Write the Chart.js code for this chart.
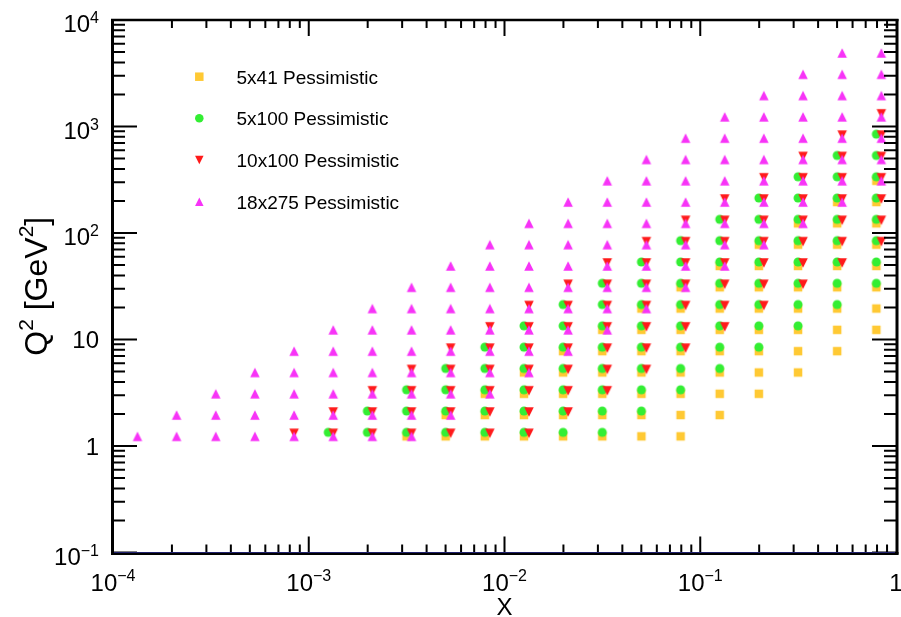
<!DOCTYPE html>
<html><head><meta charset="utf-8">
<script src="https://cdn.jsdelivr.net/npm/chart.js@4.4.0/dist/chart.umd.min.js"></script>
<style>html,body{margin:0;padding:0;background:#fff;}canvas{display:block;}</style>
</head><body>
<canvas id="c" width="901" height="617"></canvas>
<script>
// ---- data ----
const xBinCenters = [1.334e-4, 2.113e-4, 3.350e-4, 5.309e-4, 8.414e-4, 1.334e-3, 2.113e-3, 3.350e-3, 5.309e-3, 8.414e-3,
                     1.334e-2, 2.113e-2, 3.350e-2, 5.309e-2, 8.414e-2, 0.1334, 0.2113, 0.3350, 0.5309, 0.8414];
const q2BinCenters = [1.259, 1.995, 3.162, 5.012, 7.943, 12.59, 19.95, 31.62, 50.12, 79.43,
                      125.9, 199.5, 316.2, 501.2, 794.3, 1259, 1995, 3162, 5012];
const seriesNames = ['5x41 Pessimistic', '5x100 Pessimistic', '10x100 Pessimistic', '18x275 Pessimistic'];
// lowest / highest Q2 bin filled in each x bin (null = empty column)
const q2Min_5x41   = [null,null,null,null,null,null,null,1.259,1.259,1.259,1.259,1.259,1.259,1.259,1.259,1.995,3.162,5.012,7.943,12.59];
const q2Max_5x41   = [null,null,null,null,null,null,null,1.259,1.995,3.162,5.012,7.943,12.59,19.95,31.62,50.12,79.43,125.9,199.5,316.2];
const q2Min_5x100  = [null,null,null,null,null,1.259,1.259,1.259,1.259,1.259,1.259,1.259,1.259,1.995,3.162,5.012,7.943,12.59,19.95,31.62];
const q2Max_5x100  = [null,null,null,null,null,1.259,1.995,3.162,5.012,7.943,12.59,19.95,31.62,50.12,79.43,125.9,199.5,316.2,501.2,794.3];
const q2Min_10x100 = [null,null,null,null,1.259,1.259,1.259,1.259,1.259,1.259,1.259,1.995,3.162,5.012,7.943,12.59,19.95,31.62,50.12,79.43];
const q2Max_10x100 = [null,null,null,null,1.259,1.995,3.162,5.012,7.943,12.59,19.95,31.62,50.12,79.43,125.9,199.5,316.2,501.2,794.3,1259];
const q2Min_18x275 = [1.259,1.259,1.259,1.259,1.259,1.259,1.259,1.259,1.995,3.162,5.012,7.943,12.59,19.95,31.62,50.12,79.43,125.9,199.5,316.2];
const q2Max_18x275 = [1.259,1.995,3.162,5.012,7.943,12.59,19.95,31.62,50.12,79.43,125.9,199.5,316.2,501.2,794.3,1259,1995,3162,5012,5012];
// axis tick labels
const xMajorTicks = [1e-4, 1e-3, 1e-2, 1e-1, 1];
const xTickBase   = ['10', '10', '10', '10', '1'];
const xTickExp    = ['\u22124', '\u22123', '\u22122', '\u22121', ''];
const yMajorTicks = [0.1, 1, 10, 100, 1000, 10000];
const yTickBase   = ['10', '1', '10', '10', '10', '10'];
const yTickExp    = ['\u22121', '', '', '2', '3', '4'];
const xTitle = 'X';
const yTitleParts = [['Q', false], ['2', true], [' [GeV', false], ['2', true], [']', false]];

// ---- styles ----
const FONT = '"Liberation Sans", Arial, Helvetica, sans-serif';
const seriesStyle = [
  {shape: 'square', color: '#FFC933', dx: -5, dy: 1,  size: 8.5},
  {shape: 'circle', color: '#33EE33', dx: -5, dy: -3, size: 9},
  {shape: 'down',   color: '#FF1A1A', dx: 0,  dy: -2, size: 9.5},
  {shape: 'up',     color: '#F733F7', dx: 0,  dy: 1,  size: 9.5}
];

function drawShape(g, shape, cx, cy, s) {
  g.beginPath();
  const h = s / 2;
  if (shape === 'square') g.rect(cx - h, cy - h, s, s);
  else if (shape === 'circle') g.arc(cx, cy, h, 0, 2 * Math.PI);
  else if (shape === 'down') { g.moveTo(cx - h, cy - h); g.lineTo(cx + h, cy - h); g.lineTo(cx, cy + h); g.closePath(); }
  else { g.moveTo(cx - h, cy + h); g.lineTo(cx + h, cy + h); g.lineTo(cx, cy - h); g.closePath(); }
  g.fill();
}
function makeMarker(st) {
  const c = document.createElement('canvas');
  c.width = 30; c.height = 30;
  const g = c.getContext('2d');
  g.fillStyle = st.color;
  drawShape(g, st.shape, 15 + st.dx, 15 + st.dy, st.size);
  return c;
}

function buildPoints(mins, maxs) {
  const pts = [];
  xBinCenters.forEach((xv, i) => {
    if (mins[i] === null) return;
    q2BinCenters.forEach(q => { if (q >= mins[i] && q <= maxs[i]) pts.push({x: xv, y: q}); });
  });
  return pts;
}
const seriesData = [
  buildPoints(q2Min_5x41, q2Max_5x41),
  buildPoints(q2Min_5x100, q2Max_5x100),
  buildPoints(q2Min_10x100, q2Max_10x100),
  buildPoints(q2Min_18x275, q2Max_18x275)
];

const datasets = seriesNames.map((name, i) => ({
  label: name,
  data: seriesData[i],
  pointStyle: makeMarker(seriesStyle[i]),
  pointRadius: 4,
  pointHoverRadius: 4,
  showLine: false,
  order: 4 - i
}));

function drawSupLabel(ctx, base, exp, x, baseY, align, baseSize, expSize, raise) {
  ctx.font = baseSize + 'px ' + FONT;
  const wb = ctx.measureText(base).width;
  ctx.font = expSize + 'px ' + FONT;
  const we = exp ? ctx.measureText(exp).width : 0;
  const total = wb + we;
  let x0 = align === 'center' ? x - total / 2 : x - total;
  ctx.textAlign = 'left';
  ctx.textBaseline = 'alphabetic';
  ctx.font = baseSize + 'px ' + FONT;
  ctx.fillText(base, x0, baseY);
  if (exp) {
    ctx.font = expSize + 'px ' + FONT;
    ctx.fillText(exp, x0 + wb, baseY - raise);
  }
}

const framePlugin = {
  id: 'rootFrame',
  afterDatasetsDraw(chart) {
    const {ctx, chartArea: a, scales} = chart;
    const xs = scales.x, ys = scales.y;
    ctx.save();
    ctx.strokeStyle = '#000';
    ctx.lineWidth = 2;
    ctx.beginPath();
    // y ticks (left & right)
    for (let e = -1; e <= 3; e++) {
      for (let m = 1; m <= 9; m++) {
        const v = m * Math.pow(10, e);
        const py = ys.getPixelForValue(v);
        const len = m === 1 ? 24 : 12;
        ctx.moveTo(a.left, py); ctx.lineTo(a.left + len, py);
        ctx.moveTo(a.right, py); ctx.lineTo(a.right - len, py);
      }
    }
    // x ticks (bottom & top)
    for (let e = -4; e <= -1; e++) {
      for (let m = 1; m <= 9; m++) {
        const v = m * Math.pow(10, e);
        const px = xs.getPixelForValue(v);
        const len = m === 1 ? 16 : 8;
        ctx.moveTo(px, a.bottom); ctx.lineTo(px, a.bottom - len);
        ctx.moveTo(px, a.top); ctx.lineTo(px, a.top + len);
      }
    }
    ctx.stroke();
    // frame
    ctx.lineWidth = 3;
    ctx.beginPath(); ctx.moveTo(a.left - 0.5, a.top - 1); ctx.lineTo(a.left - 0.5, a.bottom + 2); ctx.stroke();
    ctx.beginPath(); ctx.moveTo(a.right + 1, a.top - 1); ctx.lineTo(a.right + 1, a.bottom + 2); ctx.stroke();
    ctx.lineWidth = 2.4;
    ctx.beginPath(); ctx.moveTo(a.left - 2, a.top); ctx.lineTo(a.right + 2.5, a.top); ctx.stroke();
    ctx.lineWidth = 3;
    ctx.beginPath(); ctx.moveTo(a.left - 2, a.bottom + 1); ctx.lineTo(a.right + 2.5, a.bottom + 1); ctx.stroke();
    ctx.strokeStyle = '#20206e';
    ctx.lineWidth = 1.2;
    ctx.beginPath(); ctx.moveTo(a.left + 1, a.bottom); ctx.lineTo(a.right - 1, a.bottom); ctx.stroke();

    // tick labels
    ctx.fillStyle = '#000';
    xMajorTicks.forEach((v, i) => {
      const px = xs.getPixelForValue(v);
      drawSupLabel(ctx, xTickBase[i], xTickExp[i], px, 591, 'center', 24, 16, 10);
    });
    yMajorTicks.forEach((v, i) => {
      const py = ys.getPixelForValue(v);
      const off = yTickExp[i] ? 3.5 : 0;
      drawSupLabel(ctx, yTickBase[i], yTickExp[i], 99, py + off + 8.6, 'right', 24, 16, 9);
    });

    // axis titles
    ctx.font = '24px ' + FONT;
    ctx.textAlign = 'center';
    ctx.textBaseline = 'alphabetic';
    ctx.fillText(xTitle, (a.left + a.right) / 2, 615);

    ctx.save();
    ctx.translate(46.5, (a.top + a.bottom) / 2);
    ctx.rotate(-Math.PI / 2);
    let total = 0;
    yTitleParts.forEach(([t, sup]) => { ctx.font = (sup ? 21 : 32) + 'px ' + FONT; total += ctx.measureText(t).width; });
    let cx = -total / 2;
    ctx.textAlign = 'left';
    yTitleParts.forEach(([t, sup]) => {
      ctx.font = (sup ? 21 : 32) + 'px ' + FONT;
      ctx.fillText(t, cx, sup ? -13.5 : 0);
      cx += ctx.measureText(t).width;
    });
    ctx.restore();

    // legend
    const legY = [76.7, 118.3, 160, 201.7];
    seriesNames.forEach((name, i) => {
      const st = seriesStyle[i];
      ctx.fillStyle = st.color;
      drawShape(ctx, st.shape, 199.3, legY[i], 8.5);
      ctx.fillStyle = '#000';
      ctx.font = '19px ' + FONT;
      ctx.textAlign = 'left';
      ctx.textBaseline = 'alphabetic';
      ctx.fillText(name, 236.5, legY[i] + 6.8);
    });
    ctx.restore();
  }
};

new Chart(document.getElementById('c'), {
  type: 'scatter',
  data: {datasets},
  options: {
    responsive: false,
    animation: false,
    events: [],
    layout: {padding: {left: 113, top: 20, right: 3, bottom: 64.5}},
    plugins: {legend: {display: false}, tooltip: {enabled: false}, title: {display: false}},
    scales: {
      x: {type: 'logarithmic', min: 1e-4, max: 1, display: false},
      y: {type: 'logarithmic', min: 0.1, max: 10000, display: false}
    }
  },
  plugins: [framePlugin]
});
</script>
</body></html>
